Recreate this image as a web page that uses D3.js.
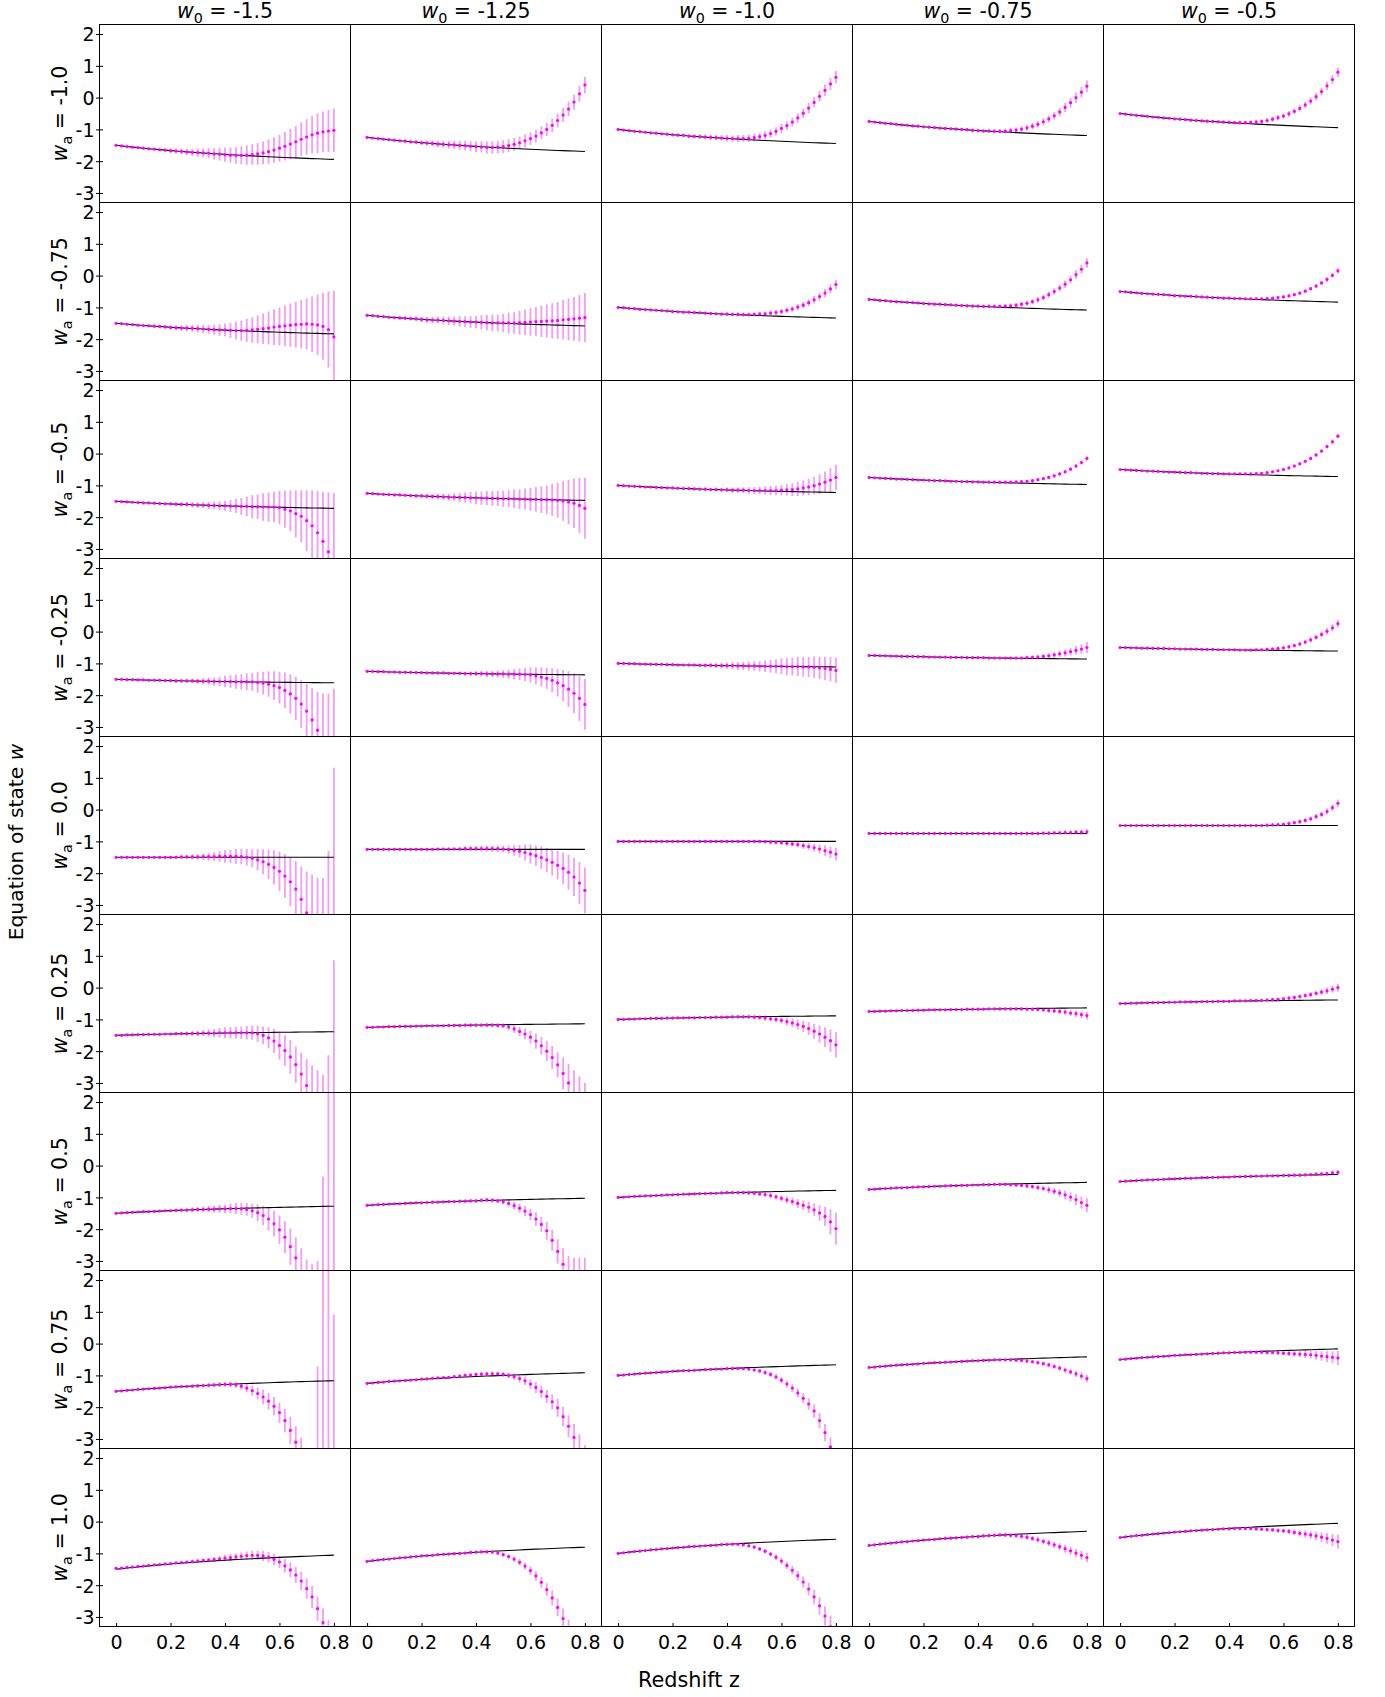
<!DOCTYPE html>
<html>
<head>
<meta charset="utf-8">
<script src="https://cdn.jsdelivr.net/npm/d3@7"></script>
<style>
  html, body { margin: 0; padding: 0; background: #fff; }
  svg { display: block; font-family: "DejaVu Sans", sans-serif; }
</style>
</head>
<body>
<script>
// ---- grid parameters and axis ticks ----
const w0Values = [-1.5, -1.25, -1.0, -0.75, -0.5];
const w0Labels = ["-1.5", "-1.25", "-1.0", "-0.75", "-0.5"];
const waValues = [-1.0, -0.75, -0.5, -0.25, 0.0, 0.25, 0.5, 0.75, 1.0];
const waLabels = ["-1.0", "-0.75", "-0.5", "-0.25", "0.0", "0.25", "0.5", "0.75", "1.0"];
const xTicks = [0, 0.2, 0.4, 0.6, 0.8];
const xTickLabels = ["0", "0.2", "0.4", "0.6", "0.8"];
const yTicks = [-3, -2, -1, 0, 1, 2];
const yTickLabels = ["-3", "-2", "-1", "0", "1", "2"];

// redshift bins of the reconstruction
const zValues = [0, 0.02, 0.04, 0.06, 0.08, 0.1, 0.12, 0.14, 0.16, 0.18,
  0.2, 0.22, 0.24, 0.26, 0.28, 0.3, 0.32, 0.34, 0.36, 0.38,
  0.4, 0.42, 0.44, 0.46, 0.48, 0.5, 0.52, 0.54, 0.56, 0.58,
  0.6, 0.62, 0.64, 0.66, 0.68, 0.7, 0.72, 0.74, 0.76, 0.78, 0.8];

// ---- shared 1-sigma uncertainty profiles ----
const errEnd07 = [.01,.01,.01,.01,.01,.01,.01,.01,.01,.01, .01,.01,.01,.01,.02,.02,.02,.02,.02,.02, .02,.03,.03,.03,.03,.03,.03,.04,.04,.04, .04,.04,.05,.05,.05,.05,.06,.06,.06,.07, .07];
const errEnd08 = [.01,.01,.01,.01,.01,.01,.01,.01,.01,.01, .01,.01,.02,.02,.02,.02,.02,.02,.03,.03, .03,.03,.03,.03,.04,.04,.04,.04,.04,.05, .05,.05,.05,.06,.06,.06,.07,.07,.07,.08, .08];
const errEnd12 = [.01,.01,.01,.01,.01,.01,.01,.01,.01,.01, .01,.01,.01,.02,.02,.02,.02,.02,.02,.03, .03,.03,.03,.03,.04,.04,.04,.04,.05,.05, .05,.06,.06,.07,.07,.08,.08,.09,.1,.11, .12];
const errEnd15 = [.01,.01,.01,.01,.01,.02,.02,.02,.02,.02, .03,.03,.03,.03,.04,.04,.04,.04,.05,.05, .05,.05,.06,.06,.06,.07,.07,.07,.08,.08, .08,.09,.09,.1,.1,.11,.12,.12,.13,.14, .15];
const errEnd17 = [.01,.01,.01,.01,.01,.01,.01,.01,.01,.01, .01,.01,.02,.02,.02,.02,.02,.03,.03,.03, .03,.03,.04,.04,.04,.04,.05,.05,.05,.06, .06,.07,.07,.08,.09,.1,.11,.12,.14,.15, .17];
const errEnd18 = [.01,.01,.01,.01,.02,.02,.02,.02,.03,.03, .03,.03,.04,.04,.04,.05,.05,.05,.05,.06, .06,.06,.07,.07,.07,.08,.08,.08,.09,.09, .1,.1,.11,.11,.12,.13,.14,.15,.16,.17, .18];
const errEnd20 = [.01,.01,.01,.01,.01,.01,.01,.01,.01,.01, .01,.01,.01,.02,.02,.02,.02,.02,.03,.03, .03,.03,.04,.04,.04,.05,.05,.05,.06,.06, .07,.08,.08,.09,.1,.11,.12,.14,.16,.18, .2];
const errEnd22 = [.01,.01,.01,.01,.01,.01,.01,.01,.01,.01, .01,.01,.01,.02,.02,.02,.02,.02,.03,.03, .03,.03,.04,.04,.04,.05,.05,.06,.06,.07, .07,.08,.09,.1,.11,.12,.14,.15,.17,.19, .22];

// ---- reconstructed w(z): one row per wa, one panel per w0 ----
const meanRow1 = [
  [-1.5,-1.52,-1.54,-1.56,-1.57,-1.59,-1.61,-1.62,-1.64,-1.65, -1.67,-1.68,-1.69,-1.71,-1.72,-1.73,-1.74,-1.75,-1.77,-1.78, -1.8,-1.81,-1.82,-1.82,-1.81,-1.79,-1.77,-1.74,-1.7,-1.65, -1.59,-1.53,-1.46,-1.39,-1.31,-1.24,-1.17,-1.12,-1.08,-1.05, -1.03],
  [-1.25,-1.27,-1.29,-1.31,-1.32,-1.34,-1.36,-1.37,-1.39,-1.4, -1.42,-1.43,-1.44,-1.46,-1.47,-1.48,-1.49,-1.5,-1.51,-1.53, -1.54,-1.55,-1.57,-1.57,-1.56,-1.54,-1.51,-1.47,-1.42,-1.36, -1.29,-1.21,-1.11,-1.0,-0.87,-0.72,-0.55,-0.36,-0.14,0.12, 0.4],
  [-1.0,-1.02,-1.04,-1.06,-1.07,-1.09,-1.11,-1.12,-1.14,-1.15, -1.17,-1.18,-1.19,-1.21,-1.22,-1.23,-1.24,-1.25,-1.26,-1.27, -1.28,-1.29,-1.29,-1.29,-1.28,-1.26,-1.23,-1.19,-1.13,-1.06, -0.97,-0.88,-0.77,-0.64,-0.49,-0.33,-0.15,0.04,0.23,0.43, 0.64],
  [-0.75,-0.77,-0.79,-0.81,-0.82,-0.84,-0.86,-0.87,-0.89,-0.9, -0.92,-0.93,-0.94,-0.96,-0.97,-0.98,-0.99,-1.0,-1.01,-1.03, -1.04,-1.05,-1.05,-1.06,-1.06,-1.05,-1.04,-1.02,-0.99,-0.95, -0.9,-0.84,-0.76,-0.67,-0.57,-0.45,-0.31,-0.16,0.0,0.17, 0.36],
  [-0.5,-0.52,-0.54,-0.56,-0.57,-0.59,-0.61,-0.62,-0.64,-0.65, -0.67,-0.68,-0.69,-0.71,-0.72,-0.73,-0.74,-0.75,-0.76,-0.77, -0.78,-0.79,-0.79,-0.79,-0.78,-0.77,-0.75,-0.72,-0.68,-0.63, -0.58,-0.51,-0.43,-0.34,-0.23,-0.11,0.03,0.19,0.37,0.57, 0.8]
];
const errRow1 = [
  [.01,.01,.02,.02,.03,.03,.04,.04,.05,.06, .07,.08,.09,.1,.11,.13,.14,.16,.18,.2, .22,.24,.26,.28,.3,.32,.34,.36,.38,.4, .42,.45,.48,.5,.53,.56,.59,.62,.64,.66, .68],
  [.01,.01,.02,.02,.03,.03,.04,.05,.05,.06, .07,.08,.09,.1,.11,.12,.13,.14,.15,.16, .17,.18,.19,.2,.2,.2,.2,.2,.2,.2, .2,.2,.2,.21,.21,.22,.22,.23,.24,.25, .26],
  [.01,.01,.01,.02,.02,.02,.03,.03,.03,.04, .04,.05,.05,.06,.06,.07,.07,.08,.08,.09, .1,.1,.11,.11,.12,.12,.12,.13,.13,.13, .14,.14,.14,.15,.15,.16,.16,.17,.18,.19, .2],
  errEnd18,
  errEnd15
];

const meanRow2 = [
  [-1.5,-1.51,-1.53,-1.54,-1.56,-1.57,-1.58,-1.59,-1.6,-1.61, -1.63,-1.64,-1.65,-1.65,-1.66,-1.67,-1.68,-1.69,-1.7,-1.71, -1.71,-1.72,-1.73,-1.73,-1.72,-1.71,-1.69,-1.67,-1.65,-1.62, -1.6,-1.58,-1.56,-1.54,-1.53,-1.52,-1.53,-1.55,-1.6,-1.7, -1.93],
  [-1.25,-1.26,-1.28,-1.29,-1.31,-1.32,-1.33,-1.34,-1.35,-1.36, -1.38,-1.39,-1.4,-1.4,-1.41,-1.42,-1.43,-1.44,-1.45,-1.46, -1.46,-1.47,-1.48,-1.49,-1.49,-1.49,-1.49,-1.49,-1.48,-1.47, -1.46,-1.45,-1.44,-1.43,-1.42,-1.41,-1.39,-1.38,-1.36,-1.34, -1.32],
  [-1.0,-1.01,-1.03,-1.04,-1.06,-1.07,-1.08,-1.09,-1.1,-1.11, -1.13,-1.14,-1.15,-1.15,-1.16,-1.17,-1.18,-1.19,-1.2,-1.21, -1.21,-1.22,-1.22,-1.23,-1.23,-1.22,-1.21,-1.2,-1.18,-1.16, -1.13,-1.09,-1.05,-0.99,-0.93,-0.85,-0.76,-0.66,-0.55,-0.42, -0.28],
  [-0.75,-0.76,-0.78,-0.79,-0.81,-0.82,-0.83,-0.84,-0.85,-0.86, -0.88,-0.89,-0.9,-0.9,-0.91,-0.92,-0.93,-0.94,-0.95,-0.96, -0.96,-0.97,-0.97,-0.97,-0.97,-0.96,-0.95,-0.93,-0.9,-0.87, -0.82,-0.76,-0.69,-0.6,-0.5,-0.39,-0.27,-0.13,0.03,0.2, 0.4],
  [-0.5,-0.51,-0.53,-0.54,-0.56,-0.57,-0.58,-0.59,-0.6,-0.61, -0.63,-0.64,-0.65,-0.65,-0.66,-0.67,-0.68,-0.69,-0.7,-0.71, -0.71,-0.72,-0.72,-0.73,-0.73,-0.73,-0.73,-0.72,-0.71,-0.69, -0.67,-0.64,-0.6,-0.55,-0.49,-0.41,-0.33,-0.23,-0.12,0.01, 0.15]
];
const errRow2 = [
  [.01,.01,.02,.02,.03,.03,.04,.05,.05,.06, .07,.08,.09,.1,.11,.12,.13,.14,.16,.18, .2,.24,.28,.32,.36,.4,.44,.48,.52,.56, .6,.64,.68,.72,.76,.8,.87,.95,1.05,1.2, 1.45],
  [.01,.01,.02,.02,.03,.03,.04,.05,.06,.07, .08,.09,.1,.11,.12,.13,.14,.16,.17,.19, .2,.22,.24,.26,.27,.29,.32,.34,.37,.4, .43,.46,.49,.52,.55,.58,.62,.66,.69,.73, .77],
  errEnd15,
  errEnd15,
  errEnd08
];

const meanRow3 = [
  [-1.5,-1.51,-1.52,-1.53,-1.54,-1.55,-1.55,-1.56,-1.57,-1.58, -1.58,-1.59,-1.6,-1.6,-1.61,-1.62,-1.62,-1.63,-1.63,-1.64, -1.64,-1.65,-1.65,-1.66,-1.66,-1.67,-1.67,-1.68,-1.68,-1.68, -1.7,-1.75,-1.8,-1.89,-1.97,-2.11,-2.27,-2.49,-2.76,-3.09, -3.5],
  [-1.25,-1.26,-1.27,-1.28,-1.29,-1.3,-1.3,-1.31,-1.32,-1.33, -1.33,-1.34,-1.35,-1.35,-1.36,-1.37,-1.37,-1.38,-1.38,-1.39, -1.39,-1.4,-1.4,-1.41,-1.41,-1.42,-1.42,-1.42,-1.43,-1.43, -1.44,-1.44,-1.45,-1.45,-1.46,-1.47,-1.49,-1.52,-1.56,-1.63, -1.72],
  [-1.0,-1.01,-1.02,-1.03,-1.04,-1.05,-1.05,-1.06,-1.07,-1.08, -1.08,-1.09,-1.1,-1.1,-1.11,-1.12,-1.12,-1.13,-1.13,-1.14, -1.14,-1.15,-1.15,-1.15,-1.16,-1.16,-1.16,-1.16,-1.16,-1.16, -1.15,-1.14,-1.13,-1.11,-1.08,-1.05,-1.01,-0.96,-0.9,-0.83, -0.75],
  [-0.75,-0.76,-0.77,-0.78,-0.79,-0.8,-0.8,-0.81,-0.82,-0.83, -0.83,-0.84,-0.85,-0.85,-0.86,-0.87,-0.87,-0.88,-0.88,-0.89, -0.89,-0.9,-0.9,-0.9,-0.9,-0.9,-0.9,-0.89,-0.88,-0.87, -0.85,-0.82,-0.79,-0.75,-0.7,-0.64,-0.57,-0.49,-0.39,-0.28, -0.15],
  [-0.5,-0.51,-0.52,-0.53,-0.54,-0.55,-0.55,-0.56,-0.57,-0.58, -0.58,-0.59,-0.6,-0.6,-0.61,-0.62,-0.62,-0.63,-0.63,-0.64, -0.64,-0.64,-0.64,-0.64,-0.64,-0.63,-0.62,-0.6,-0.57,-0.54, -0.5,-0.45,-0.39,-0.32,-0.24,-0.15,-0.04,0.08,0.22,0.37, 0.55]
];
const errRow3 = [
  [.01,.01,.01,.02,.02,.02,.03,.03,.04,.04, .05,.05,.06,.07,.08,.09,.1,.11,.12,.14, .16,.19,.22,.26,.31,.36,.39,.43,.46,.48, .52,.58,.64,.74,.82,.96,1.11,1.31,1.56,1.87, 2.26],
  [.01,.01,.01,.02,.02,.03,.03,.04,.04,.05, .06,.07,.08,.09,.1,.11,.12,.14,.16,.18, .2,.21,.22,.23,.24,.25,.27,.29,.31,.33, .36,.39,.42,.45,.5,.55,.62,.7,.78,.87, .96],
  [.01,.01,.01,.01,.01,.02,.02,.02,.02,.03, .03,.03,.03,.04,.04,.04,.05,.05,.06,.06, .07,.08,.08,.09,.1,.11,.12,.13,.14,.15, .16,.18,.2,.22,.24,.26,.28,.31,.34,.37, .4],
  errEnd07,
  errEnd07
];

const meanRow4 = [
  [-1.5,-1.5,-1.51,-1.51,-1.52,-1.52,-1.53,-1.53,-1.53,-1.54, -1.54,-1.55,-1.55,-1.55,-1.55,-1.56,-1.56,-1.56,-1.57,-1.57, -1.57,-1.57,-1.58,-1.58,-1.58,-1.58,-1.6,-1.62,-1.65,-1.7, -1.76,-1.85,-1.96,-2.1,-2.28,-2.5,-2.78,-3.1,-3.45,-3.85, -4.3],
  [-1.25,-1.25,-1.26,-1.26,-1.27,-1.27,-1.28,-1.28,-1.28,-1.29, -1.29,-1.3,-1.3,-1.3,-1.3,-1.31,-1.31,-1.31,-1.32,-1.32, -1.32,-1.32,-1.33,-1.33,-1.33,-1.33,-1.34,-1.34,-1.34,-1.35, -1.36,-1.39,-1.43,-1.47,-1.53,-1.61,-1.7,-1.81,-1.94,-2.1, -2.29],
  [-1.0,-1.0,-1.01,-1.01,-1.02,-1.02,-1.03,-1.03,-1.03,-1.04, -1.04,-1.05,-1.05,-1.05,-1.05,-1.06,-1.06,-1.06,-1.07,-1.07, -1.07,-1.07,-1.08,-1.08,-1.08,-1.08,-1.09,-1.09,-1.09,-1.09, -1.09,-1.1,-1.1,-1.1,-1.11,-1.11,-1.12,-1.14,-1.16,-1.19, -1.22],
  [-0.75,-0.75,-0.76,-0.76,-0.77,-0.77,-0.78,-0.78,-0.78,-0.79, -0.79,-0.8,-0.8,-0.8,-0.8,-0.81,-0.81,-0.81,-0.82,-0.82, -0.82,-0.82,-0.83,-0.83,-0.83,-0.83,-0.83,-0.83,-0.83,-0.82, -0.81,-0.8,-0.78,-0.76,-0.73,-0.7,-0.67,-0.63,-0.59,-0.55, -0.5],
  [-0.5,-0.5,-0.51,-0.51,-0.52,-0.52,-0.53,-0.53,-0.53,-0.54, -0.54,-0.55,-0.55,-0.55,-0.55,-0.56,-0.56,-0.56,-0.57,-0.57, -0.57,-0.57,-0.58,-0.58,-0.58,-0.57,-0.57,-0.56,-0.55,-0.53, -0.51,-0.48,-0.44,-0.39,-0.33,-0.26,-0.18,-0.09,0.01,0.12, 0.25]
];
const errRow4 = [
  [.01,.01,.01,.02,.02,.02,.03,.03,.03,.04, .04,.05,.05,.06,.07,.08,.09,.11,.13,.15, .18,.2,.22,.24,.26,.28,.32,.36,.4,.45, .5,.56,.62,.68,.75,.85,1.0,1.2,1.5,1.9, 2.5],
  [.01,.01,.01,.01,.01,.02,.02,.02,.02,.03, .03,.03,.04,.04,.04,.05,.05,.06,.06,.07, .08,.09,.1,.1,.11,.12,.14,.16,.18,.21, .24,.27,.3,.33,.38,.43,.49,.56,.63,.71, .8],
  [.01,.01,.01,.01,.01,.02,.02,.02,.03,.03, .03,.04,.04,.05,.05,.06,.06,.07,.08,.09, .1,.11,.12,.13,.14,.15,.16,.18,.2,.22, .25,.27,.28,.3,.31,.32,.34,.35,.37,.38, .4],
  errEnd17,
  errEnd12
];

const meanRow5 = [
  [-1.5,-1.5,-1.5,-1.5,-1.5,-1.5,-1.5,-1.5,-1.5,-1.5, -1.5,-1.5,-1.49,-1.49,-1.49,-1.49,-1.48,-1.48,-1.48,-1.47, -1.47,-1.47,-1.47,-1.48,-1.5,-1.53,-1.58,-1.64,-1.72,-1.82, -1.94,-2.09,-2.27,-2.5,-2.82,-3.25,-3.7,-4.2,-4.8,-5.5, -6.5],
  [-1.25,-1.25,-1.25,-1.25,-1.25,-1.25,-1.25,-1.25,-1.25,-1.25, -1.25,-1.25,-1.25,-1.24,-1.24,-1.24,-1.24,-1.24,-1.23,-1.23, -1.23,-1.23,-1.23,-1.23,-1.23,-1.24,-1.26,-1.28,-1.31,-1.35, -1.4,-1.45,-1.51,-1.58,-1.66,-1.75,-1.85,-1.97,-2.12,-2.31, -2.54],
  [-1.0,-1.0,-1.0,-1.0,-1.0,-1.0,-1.0,-1.0,-1.0,-1.0, -1.0,-1.0,-1.0,-1.0,-1.0,-1.0,-1.0,-1.0,-1.0,-1.0, -1.0,-1.0,-1.0,-1.0,-1.0,-1.0,-1.0,-1.01,-1.02,-1.03, -1.04,-1.06,-1.08,-1.1,-1.13,-1.16,-1.2,-1.24,-1.29,-1.34, -1.4],
  [-0.75,-0.75,-0.75,-0.75,-0.75,-0.75,-0.75,-0.75,-0.75,-0.75, -0.75,-0.75,-0.75,-0.75,-0.75,-0.75,-0.75,-0.75,-0.75,-0.75, -0.75,-0.75,-0.75,-0.75,-0.75,-0.75,-0.75,-0.75,-0.75,-0.75, -0.75,-0.75,-0.74,-0.74,-0.73,-0.73,-0.72,-0.72,-0.71,-0.71, -0.7],
  [-0.5,-0.5,-0.5,-0.5,-0.5,-0.5,-0.5,-0.5,-0.5,-0.5, -0.5,-0.5,-0.5,-0.5,-0.5,-0.5,-0.5,-0.5,-0.5,-0.5, -0.5,-0.5,-0.5,-0.5,-0.5,-0.5,-0.5,-0.49,-0.48,-0.47, -0.46,-0.44,-0.41,-0.38,-0.34,-0.29,-0.22,-0.15,-0.06,0.06, 0.2]
];
const errRow5 = [
  [.01,.01,.01,.01,.01,.02,.02,.02,.03,.03, .03,.04,.05,.06,.07,.08,.1,.12,.14,.17, .2,.21,.23,.24,.26,.28,.33,.39,.46,.54, .62,.69,.77,.88,1.02,1.3,1.65,2.05,2.65,4.2, 7.82],
  [.01,.01,.01,.01,.01,.01,.02,.02,.02,.02, .03,.03,.03,.04,.04,.05,.05,.06,.07,.08, .08,.09,.09,.1,.1,.1,.13,.16,.2,.25, .3,.32,.35,.38,.41,.45,.5,.55,.6,.66, .72],
  errEnd20,
  errEnd08,
  errEnd12
];

const meanRow6 = [
  [-1.5,-1.5,-1.49,-1.49,-1.48,-1.48,-1.47,-1.47,-1.47,-1.46, -1.46,-1.45,-1.45,-1.45,-1.44,-1.44,-1.43,-1.43,-1.43,-1.42, -1.42,-1.42,-1.42,-1.42,-1.42,-1.42,-1.45,-1.5,-1.58,-1.68, -1.82,-1.98,-2.18,-2.42,-2.72,-3.08,-3.5,-4.0,-4.6,-5.3, -6.2],
  [-1.25,-1.25,-1.24,-1.24,-1.23,-1.23,-1.22,-1.22,-1.22,-1.21, -1.21,-1.2,-1.2,-1.2,-1.2,-1.19,-1.19,-1.19,-1.18,-1.18, -1.18,-1.18,-1.18,-1.18,-1.19,-1.2,-1.24,-1.3,-1.38,-1.46, -1.56,-1.68,-1.83,-2.0,-2.2,-2.43,-2.7,-3.0,-3.35,-3.75, -4.2],
  [-1.0,-1.0,-0.99,-0.99,-0.98,-0.98,-0.97,-0.97,-0.97,-0.96, -0.96,-0.95,-0.95,-0.95,-0.95,-0.94,-0.94,-0.94,-0.93,-0.93, -0.93,-0.92,-0.92,-0.92,-0.92,-0.93,-0.94,-0.96,-0.98,-1.0, -1.03,-1.07,-1.11,-1.16,-1.22,-1.29,-1.37,-1.46,-1.56,-1.67, -1.8],
  [-0.75,-0.75,-0.74,-0.74,-0.73,-0.73,-0.72,-0.72,-0.72,-0.71, -0.71,-0.7,-0.7,-0.7,-0.7,-0.69,-0.69,-0.69,-0.68,-0.68, -0.68,-0.68,-0.67,-0.67,-0.67,-0.67,-0.67,-0.67,-0.67,-0.68, -0.68,-0.69,-0.7,-0.72,-0.73,-0.75,-0.77,-0.8,-0.82,-0.85, -0.88],
  [-0.5,-0.5,-0.49,-0.49,-0.48,-0.48,-0.47,-0.47,-0.47,-0.46, -0.46,-0.45,-0.45,-0.45,-0.45,-0.44,-0.44,-0.44,-0.43,-0.43, -0.43,-0.42,-0.42,-0.42,-0.41,-0.41,-0.4,-0.39,-0.38,-0.37, -0.35,-0.33,-0.31,-0.28,-0.25,-0.22,-0.18,-0.14,-0.1,-0.05, 0.0]
];
const errRow6 = [
  [.01,.01,.01,.01,.01,.02,.02,.02,.03,.03, .04,.04,.05,.06,.07,.08,.09,.11,.13,.15, .17,.18,.19,.2,.21,.22,.25,.28,.33,.38, .44,.48,.53,.57,.67,.83,1.05,1.4,1.85,3.17, 7.06],
  [.01,.01,.01,.01,.01,.01,.01,.01,.02,.02, .02,.02,.03,.03,.03,.04,.04,.05,.05,.06, .06,.06,.07,.07,.08,.08,.1,.12,.14,.17, .2,.24,.28,.32,.36,.4,.5,.6,.75,.95, 1.2],
  [.01,.01,.01,.01,.01,.01,.02,.02,.02,.02, .02,.02,.02,.03,.03,.03,.03,.04,.04,.04, .04,.05,.05,.05,.06,.06,.07,.08,.09,.1, .1,.12,.14,.16,.18,.2,.23,.27,.31,.35, .4],
  errEnd12,
  errEnd12
];

const meanRow7 = [
  [-1.5,-1.49,-1.48,-1.47,-1.46,-1.45,-1.45,-1.44,-1.43,-1.42, -1.42,-1.41,-1.4,-1.4,-1.39,-1.38,-1.38,-1.37,-1.37,-1.36, -1.36,-1.35,-1.35,-1.36,-1.38,-1.42,-1.48,-1.57,-1.68,-1.83, -2.02,-2.25,-2.55,-2.9,-3.35,-3.85,-4.4,-5.0,-5.7,-6.5, -7.5],
  [-1.25,-1.24,-1.23,-1.22,-1.21,-1.2,-1.2,-1.19,-1.18,-1.17, -1.17,-1.16,-1.15,-1.15,-1.14,-1.13,-1.13,-1.12,-1.12,-1.11, -1.11,-1.09,-1.08,-1.09,-1.11,-1.14,-1.19,-1.26,-1.34,-1.43, -1.54,-1.68,-1.85,-2.05,-2.35,-2.7,-3.1,-3.55,-4.1,-4.7, -5.4],
  [-1.0,-0.99,-0.98,-0.97,-0.96,-0.95,-0.95,-0.94,-0.93,-0.92, -0.92,-0.91,-0.9,-0.9,-0.89,-0.88,-0.88,-0.87,-0.87,-0.86, -0.85,-0.85,-0.85,-0.85,-0.86,-0.87,-0.89,-0.91,-0.94,-0.98, -1.03,-1.08,-1.13,-1.19,-1.25,-1.31,-1.39,-1.49,-1.6,-1.77, -1.98],
  [-0.75,-0.74,-0.73,-0.72,-0.71,-0.7,-0.7,-0.69,-0.68,-0.67, -0.67,-0.66,-0.65,-0.65,-0.64,-0.63,-0.63,-0.62,-0.62,-0.61, -0.61,-0.6,-0.6,-0.59,-0.59,-0.59,-0.6,-0.61,-0.62,-0.64, -0.66,-0.69,-0.72,-0.76,-0.81,-0.86,-0.92,-0.99,-1.07,-1.16, -1.25],
  [-0.5,-0.49,-0.48,-0.47,-0.46,-0.45,-0.45,-0.44,-0.43,-0.42, -0.42,-0.41,-0.4,-0.4,-0.39,-0.38,-0.38,-0.37,-0.37,-0.36, -0.36,-0.35,-0.35,-0.34,-0.34,-0.33,-0.33,-0.32,-0.32,-0.32, -0.31,-0.31,-0.3,-0.3,-0.29,-0.28,-0.27,-0.26,-0.25,-0.23, -0.21]
];
const errRow7 = [
  [.01,.01,.01,.01,.01,.02,.02,.02,.03,.03, .04,.04,.05,.06,.07,.08,.09,.1,.11,.12, .13,.15,.17,.19,.2,.22,.26,.3,.35,.4, .45,.5,.57,.65,.75,.9,1.3,2.0,5.36,9.5, 10.5],
  [.01,.01,.01,.01,.01,.01,.01,.02,.02,.02, .02,.02,.03,.03,.03,.04,.04,.04,.05,.05, .05,.06,.06,.07,.07,.08,.1,.12,.14,.16, .18,.21,.24,.28,.33,.38,.5,.71,1.2,1.8, 2.5],
  [.01,.01,.01,.01,.01,.01,.01,.01,.01,.01, .01,.01,.02,.02,.02,.02,.03,.03,.03,.04, .04,.04,.05,.05,.06,.06,.07,.08,.09,.09, .1,.11,.12,.14,.15,.17,.2,.24,.3,.4, .5],
  errEnd22,
  errEnd07
];

const meanRow8 = [
  [-1.5,-1.49,-1.47,-1.46,-1.44,-1.43,-1.42,-1.41,-1.4,-1.39, -1.37,-1.36,-1.35,-1.35,-1.34,-1.33,-1.32,-1.31,-1.3,-1.29, -1.28,-1.28,-1.3,-1.34,-1.4,-1.48,-1.57,-1.68,-1.81,-1.97, -2.17,-2.42,-2.73,-3.1,-3.55,-4.1,-4.7,-5.4,-6.2,-7.1, -8.0],
  [-1.25,-1.24,-1.22,-1.21,-1.19,-1.18,-1.17,-1.16,-1.15,-1.14, -1.12,-1.11,-1.09,-1.08,-1.07,-1.06,-1.04,-1.02,-1.0,-0.99, -0.97,-0.96,-0.95,-0.95,-0.95,-0.97,-1.0,-1.04,-1.1,-1.17, -1.27,-1.38,-1.51,-1.66,-1.83,-2.02,-2.3,-2.6,-2.95,-3.35, -3.8],
  [-1.0,-0.99,-0.97,-0.96,-0.94,-0.93,-0.92,-0.91,-0.9,-0.89, -0.87,-0.86,-0.85,-0.85,-0.84,-0.83,-0.82,-0.81,-0.8,-0.8, -0.79,-0.79,-0.78,-0.79,-0.8,-0.83,-0.86,-0.91,-0.97,-1.05, -1.15,-1.27,-1.4,-1.55,-1.72,-1.9,-2.12,-2.42,-2.8,-3.25, -3.75],
  [-0.75,-0.74,-0.72,-0.71,-0.69,-0.68,-0.67,-0.66,-0.65,-0.64, -0.62,-0.61,-0.6,-0.6,-0.59,-0.58,-0.57,-0.56,-0.55,-0.54, -0.54,-0.53,-0.52,-0.51,-0.51,-0.51,-0.51,-0.52,-0.53,-0.55, -0.57,-0.6,-0.63,-0.67,-0.72,-0.77,-0.83,-0.89,-0.95,-1.02, -1.1],
  [-0.5,-0.49,-0.47,-0.46,-0.44,-0.43,-0.42,-0.41,-0.4,-0.39, -0.37,-0.36,-0.35,-0.35,-0.34,-0.33,-0.32,-0.31,-0.3,-0.29, -0.29,-0.28,-0.28,-0.27,-0.27,-0.27,-0.27,-0.28,-0.28,-0.29, -0.3,-0.31,-0.32,-0.33,-0.34,-0.35,-0.37,-0.39,-0.41,-0.43, -0.45]
];
const errRow8 = [
  [.01,.01,.01,.01,.01,.02,.02,.02,.03,.03, .03,.04,.04,.05,.05,.06,.06,.07,.07,.08, .08,.09,.09,.1,.13,.16,.19,.23,.26,.29, .32,.37,.43,.5,.6,.7,.9,4.68,9.5,10.5, 8.9],
  [.01,.01,.01,.01,.01,.01,.02,.02,.02,.02, .02,.03,.03,.03,.03,.04,.04,.04,.05,.05, .05,.06,.06,.07,.07,.08,.09,.1,.12,.13, .15,.17,.19,.21,.24,.28,.31,.35,.42,.5, .6],
  [.01,.01,.01,.01,.01,.01,.01,.01,.01,.01, .01,.01,.02,.02,.02,.02,.02,.03,.03,.03, .03,.04,.04,.04,.05,.05,.06,.07,.08,.09, .1,.11,.12,.14,.16,.18,.21,.24,.27,.3, .35],
  errEnd12,
  errEnd22
];

const meanRow9 = [
  [-1.47,-1.46,-1.44,-1.43,-1.41,-1.4,-1.38,-1.36,-1.35,-1.33, -1.32,-1.3,-1.29,-1.27,-1.26,-1.24,-1.22,-1.21,-1.19,-1.17, -1.15,-1.13,-1.11,-1.09,-1.07,-1.06,-1.06,-1.08,-1.12,-1.19, -1.27,-1.39,-1.52,-1.68,-1.87,-2.11,-2.37,-2.74,-3.18,-3.65, -4.2],
  [-1.25,-1.23,-1.21,-1.19,-1.18,-1.16,-1.14,-1.13,-1.11,-1.1, -1.08,-1.07,-1.06,-1.04,-1.03,-1.02,-1.01,-1.0,-0.99,-0.97, -0.96,-0.95,-0.95,-0.96,-0.99,-1.04,-1.1,-1.18,-1.28,-1.4, -1.54,-1.71,-1.91,-2.14,-2.4,-2.7,-3.05,-3.45,-3.9,-4.4, -4.95],
  [-1.0,-0.98,-0.96,-0.94,-0.93,-0.91,-0.89,-0.88,-0.86,-0.85, -0.83,-0.82,-0.81,-0.79,-0.78,-0.77,-0.76,-0.75,-0.74,-0.72, -0.72,-0.71,-0.71,-0.73,-0.76,-0.8,-0.86,-0.93,-1.02,-1.12, -1.24,-1.38,-1.53,-1.7,-1.9,-2.12,-2.37,-2.65,-2.97,-3.3, -3.7],
  [-0.75,-0.73,-0.71,-0.69,-0.68,-0.66,-0.64,-0.63,-0.61,-0.6, -0.58,-0.57,-0.56,-0.54,-0.53,-0.52,-0.51,-0.5,-0.49,-0.47, -0.47,-0.45,-0.44,-0.43,-0.42,-0.42,-0.43,-0.44,-0.46,-0.49, -0.53,-0.57,-0.62,-0.67,-0.73,-0.79,-0.85,-0.92,-0.99,-1.06, -1.13],
  [-0.5,-0.48,-0.46,-0.44,-0.43,-0.41,-0.39,-0.38,-0.36,-0.35, -0.33,-0.32,-0.31,-0.29,-0.28,-0.27,-0.26,-0.25,-0.24,-0.23, -0.23,-0.22,-0.22,-0.22,-0.22,-0.23,-0.24,-0.25,-0.26,-0.28, -0.29,-0.31,-0.34,-0.37,-0.39,-0.42,-0.45,-0.49,-0.53,-0.58, -0.63]
];
const errRow9 = [
  [.01,.01,.01,.01,.01,.02,.02,.02,.02,.03, .03,.03,.04,.04,.05,.06,.06,.07,.08,.09, .1,.11,.11,.12,.13,.14,.15,.16,.17,.18, .19,.21,.23,.25,.29,.32,.35,.38,.45,.55, .65],
  [.01,.01,.01,.01,.01,.01,.02,.02,.02,.02, .02,.02,.02,.03,.03,.03,.03,.04,.04,.04, .04,.05,.05,.05,.05,.06,.07,.08,.1,.11, .13,.15,.17,.2,.24,.28,.32,.36,.42,.5, .6],
  [.01,.01,.01,.01,.01,.01,.01,.01,.01,.01, .01,.01,.02,.02,.02,.02,.02,.03,.03,.03, .03,.04,.04,.04,.05,.05,.06,.07,.08,.09, .1,.11,.13,.15,.17,.2,.23,.27,.31,.35, .4],
  errEnd15,
  errEnd22
];

const meanRows = [meanRow1, meanRow2, meanRow3, meanRow4, meanRow5, meanRow6, meanRow7, meanRow8, meanRow9];
const errRows = [errRow1, errRow2, errRow3, errRow4, errRow5, errRow6, errRow7, errRow8, errRow9];

// ---- layout ----
const W = 1385, H = 1697;
const gridLeft = 99.5, gridTop = 24.5, pw = 251, ph = 178;
const font = "'DejaVu Sans', sans-serif";
const labelSize = 20.5;

const svg = d3.select("body").append("svg")
  .attr("width", W).attr("height", H)
  .attr("viewBox", `0 0 ${W} ${H}`);
svg.append("rect").attr("width", W).attr("height", H).attr("fill", "#fff");

const x = d3.scaleLinear().domain([-0.061, 0.861]).range([0, pw]);
const y = d3.scaleLinear().domain([-3.3, 2.3]).range([ph, 0]);

svg.append("defs").append("clipPath").attr("id", "plot-area")
  .append("rect").attr("width", pw).attr("height", ph);

// mathtext-like label: italic symbol with subscript, then the value
function symbolLabel(sel, sub, value, size) {
  sel.append("tspan").attr("font-style", "italic").text("w");
  sel.append("tspan").attr("font-size", size * 0.7).attr("dy", size * 0.22).text(sub);
  sel.append("tspan").attr("dy", -size * 0.22).text(" = " + value);
}

const line = d3.line().x(d => x(d[0])).y(d => y(d[1]));

waValues.forEach((wa, r) => {
  w0Values.forEach((w0, c) => {
    const g = svg.append("g")
      .attr("transform", `translate(${gridLeft + c * pw},${gridTop + r * ph})`);
    const means = meanRows[r][c];
    const errs = errRows[r][c];
    const pts = zValues.map((z, i) => ({ z: z, m: means[i], e: errs[i] }));

    const plot = g.append("g").attr("clip-path", "url(#plot-area)");

    // 1-sigma error bars
    plot.append("g").selectAll("line").data(pts).join("line")
      .attr("x1", d => x(d.z)).attr("x2", d => x(d.z))
      .attr("y1", d => y(d.m - d.e)).attr("y2", d => y(d.m + d.e))
      .attr("stroke", "#ee82ee").attr("stroke-opacity", 0.75)
      .attr("stroke-width", 1.9);

    // fiducial CPL model w(z) = w0 + wa z/(1+z)
    const model = zValues.map(z => [z, w0 + wa * z / (1 + z)]);
    plot.append("path").attr("d", line(model))
      .attr("fill", "none").attr("stroke", "#000").attr("stroke-width", 1.1);

    // reconstructed values
    plot.append("g").selectAll("circle").data(pts).join("circle")
      .attr("cx", d => x(d.z)).attr("cy", d => y(d.m)).attr("r", 1.6)
      .attr("fill", "#ff00ff");

    // frame
    g.append("rect").attr("width", pw).attr("height", ph)
      .attr("fill", "none").attr("stroke", "#000").attr("stroke-width", 1);

    // y axis on the first column
    if (c === 0) {
      const ya = g.append("g").call(
        d3.axisLeft(y).tickValues(yTicks).tickSize(3.5).tickPadding(1.5)
          .tickFormat((d, i) => yTickLabels[i]));
      ya.select(".domain").remove();
      ya.selectAll(".tick line").attr("stroke", "#000").attr("x2", 3.5).attr("x1", -3.5);
      ya.selectAll(".tick text").attr("font-family", font).attr("font-size", 19)
        .attr("fill", "#000").attr("dy", "0.36em");
      ya.attr("font-family", null);
    }

    // x axis on the bottom row
    if (r === waValues.length - 1) {
      const xa = g.append("g").attr("transform", `translate(0,${ph})`).call(
        d3.axisBottom(x).tickValues(xTicks).tickSize(-3.5).tickPadding(8.7)
          .tickFormat((d, i) => xTickLabels[i]));
      xa.select(".domain").remove();
      xa.selectAll(".tick line").attr("stroke", "#000");
      xa.selectAll(".tick text").attr("font-family", font).attr("font-size", 19)
        .attr("fill", "#000");
    }
  });
});

// column titles
w0Labels.forEach((lab, c) => {
  const t = svg.append("text")
    .attr("x", gridLeft + c * pw + pw / 2).attr("y", 18)
    .attr("text-anchor", "middle").attr("font-family", font)
    .attr("font-size", labelSize).attr("fill", "#000");
  symbolLabel(t, "0", lab, labelSize);
});

// row labels
waLabels.forEach((lab, r) => {
  const cy = gridTop + r * ph + ph / 2;
  const t = svg.append("text")
    .attr("transform", `translate(67,${cy}) rotate(-90)`)
    .attr("text-anchor", "middle").attr("font-family", font)
    .attr("font-size", labelSize).attr("fill", "#000");
  symbolLabel(t, "a", lab, labelSize);
});

// figure-level axis titles
const ylab = svg.append("text")
  .attr("transform", `translate(22.5,842) rotate(-90)`)
  .attr("text-anchor", "middle").attr("font-family", font)
  .attr("font-size", 20.3).attr("fill", "#000");
ylab.append("tspan").text("Equation of state ");
ylab.append("tspan").attr("font-style", "italic").text("w");

svg.append("text")
  .attr("x", 689).attr("y", 1687)
  .attr("text-anchor", "middle").attr("font-family", font)
  .attr("font-size", 20.8).attr("fill", "#000")
  .text("Redshift z");
</script>
</body>
</html>
